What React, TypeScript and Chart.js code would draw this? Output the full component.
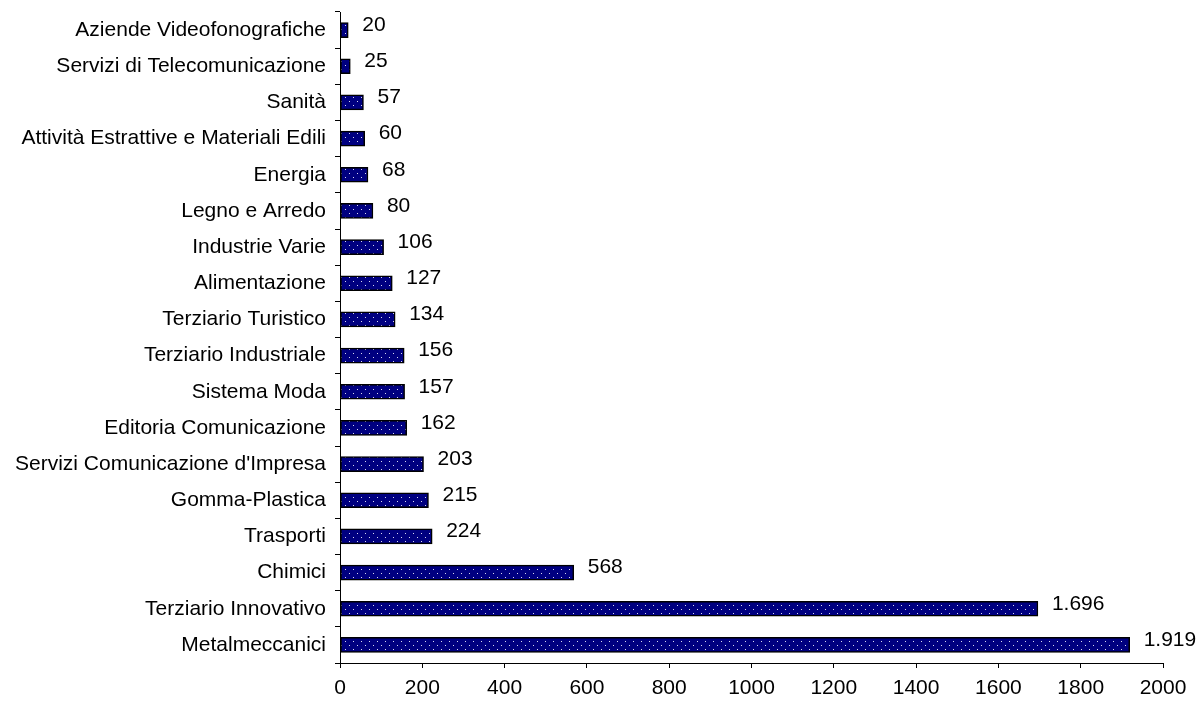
import React, { useEffect, useRef } from "react";
import { Chart, registerables } from "chart.js";

Chart.register(...registerables);

const categories = [
  "Aziende Videofonografiche",
  "Servizi di Telecomunicazione",
  "Sanità",
  "Attività Estrattive e Materiali Edili",
  "Energia",
  "Legno e Arredo",
  "Industrie Varie",
  "Alimentazione",
  "Terziario Turistico",
  "Terziario Industriale",
  "Sistema Moda",
  "Editoria Comunicazione",
  "Servizi Comunicazione d'Impresa",
  "Gomma-Plastica",
  "Trasporti",
  "Chimici",
  "Terziario Innovativo",
  "Metalmeccanici",
];

const values = [20, 25, 57, 60, 68, 80, 106, 127, 134, 156, 157, 162, 203, 215, 224, 568, 1696, 1919];

const xTicks = [0, 200, 400, 600, 800, 1000, 1200, 1400, 1600, 1800, 2000];

const FONT = "'Liberation Sans', Arial, sans-serif";
const FSIZE = 21;

function fmt(v: number): string {
  const s = String(Math.round(v));
  return s.replace(/\B(?=(\d{3})+(?!\d))/g, ".");
}

function makePattern(): CanvasPattern | string {
  const c = document.createElement("canvas");
  c.width = 8;
  c.height = 8;
  const g = c.getContext("2d");
  if (!g) return "#000080";
  g.fillStyle = "#000080";
  g.fillRect(0, 0, 8, 8);
  g.fillStyle = "#d8d8f0";
  g.fillRect(1, 1, 1, 1);
  g.fillRect(5, 5, 1, 1);
  const p = g.createPattern(c, "repeat");
  return p || "#000080";
}

const labelPlugin = {
  id: "valueLabels",
  afterDatasetsDraw(chart: any) {
    const ctx = chart.ctx;
    const meta = chart.getDatasetMeta(0);
    ctx.save();
    ctx.fillStyle = "#000";
    ctx.font = `${FSIZE}px ${FONT}`;
    ctx.textAlign = "left";
    ctx.textBaseline = "middle";
    meta.data.forEach((bar: any, i: number) => {
      ctx.fillText(fmt(values[i]), bar.x + 14, bar.y - 5);
    });
    ctx.restore();
  },
};

export default function App() {
  const ref = useRef<HTMLCanvasElement | null>(null);

  useEffect(() => {
    document.body.style.margin = "0";
    const canvas = ref.current;
    if (!canvas) return;
    const chart = new Chart(canvas, {
      type: "bar",
      data: {
        labels: categories,
        datasets: [
          {
            data: values,
            backgroundColor: makePattern() as any,
            borderColor: "#000",
            borderWidth: 1.5,
            borderSkipped: false,
            barThickness: 15,
          },
        ],
      },
      plugins: [labelPlugin],
      options: {
        indexAxis: "y",
        animation: false,
        responsive: false,
        maintainAspectRatio: false,
        devicePixelRatio: 1,
        layout: { padding: { top: 12, right: 37, left: 0, bottom: 0 } },
        plugins: {
          legend: { display: false },
          tooltip: { enabled: false },
        },
        scales: {
          x: {
            min: 0,
            max: 2000,
            afterBuildTicks: (scale: any) => {
              scale.ticks = xTicks.map((v) => ({ value: v }));
            },
            afterFit: (scale: any) => {
              scale.height = 41;
            },
            grid: {
              drawOnChartArea: false,
              drawTicks: true,
              tickLength: 5,
              color: "#000",
            },
            border: { color: "#000", width: 1 },
            ticks: {
              color: "#000",
              font: { family: FONT, size: FSIZE },
              padding: 8,
              maxRotation: 0,
              callback: (v: any) => String(v),
            },
          },
          y: {
            afterFit: (scale: any) => {
              scale.width = 340;
              scale.paddingTop = 0;
              scale.paddingBottom = 0;
            },
            grid: {
              drawOnChartArea: false,
              drawTicks: true,
              tickLength: 5,
              color: "#000",
              offset: true,
            },
            border: { color: "#000", width: 1 },
            ticks: {
              color: "#000",
              font: { family: FONT, size: FSIZE },
              padding: 9,
              autoSkip: false,
            },
          },
        },
      },
    });
    return () => chart.destroy();
  }, []);

  return (
    <div style={{ width: 1200, height: 704 }}>
      <canvas ref={ref} width={1200} height={704} style={{ display: "block" }} />
    </div>
  );
}
